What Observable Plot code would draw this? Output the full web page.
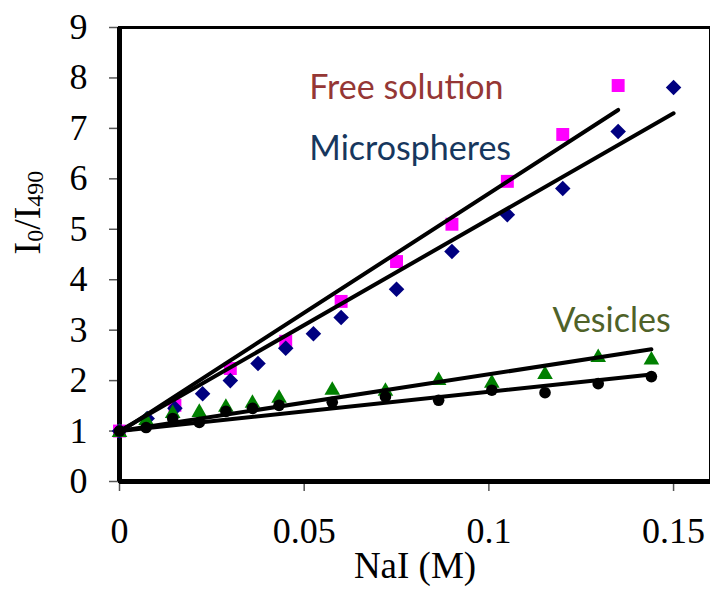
<!DOCTYPE html>
<html><head><meta charset="utf-8">
<script src="https://cdn.jsdelivr.net/npm/d3@7"></script>
<script src="https://cdn.jsdelivr.net/npm/@observablehq/plot@0.6"></script>
<style>body{margin:0;background:#fff} #chart svg{display:block}</style>
</head><body><div id="chart"></div>
<script>
// ---- data ----
const xFree  = [0, 0.015, 0.03, 0.045, 0.06, 0.075, 0.09, 0.105, 0.12, 0.135];
const yFree  = [1.0, 1.51, 2.24, 2.78, 3.57, 4.36, 5.10, 5.95, 6.88, 7.85];
const xMicro = [0, 0.0075, 0.015, 0.0225, 0.03, 0.0375, 0.045, 0.0525, 0.06, 0.075, 0.09, 0.105, 0.12, 0.135, 0.15];
const yMicro = [1.0, 1.25, 1.45, 1.74, 2.0, 2.34, 2.64, 2.93, 3.25, 3.81, 4.56, 5.29, 5.81, 6.94, 7.81];
const xVes   = [0, 0.0072, 0.0144, 0.0216, 0.0288, 0.036, 0.0432, 0.0576, 0.072, 0.0864, 0.1008, 0.1152, 0.1296, 0.144];
const yVesTri  = [0.97, 1.21, 1.35, 1.37, 1.47, 1.55, 1.65, 1.81, 1.79, 2.0, 1.95, 2.12, 2.46, 2.41];
const yVesCirc = [1.0, 1.07, 1.25, 1.17, 1.39, 1.45, 1.51, 1.57, 1.68, 1.61, 1.81, 1.76, 1.94, 2.08];
// linear fits (Stern-Volmer): intercept, slope, last x
const fitNames     = ["Free solution", "Microspheres", "Vesicles (triangles)", "Vesicles (circles)"];
const fitIntercept = [0.98, 1.0, 1.0, 1.0];
const fitSlope     = [47.3, 42.0, 11.25, 7.78];
const fitXmax      = [0.135, 0.15, 0.144, 0.144];
const xTicks = [0, 0.05, 0.1, 0.15];
const yTicks = [0, 1, 2, 3, 4, 5, 6, 7, 8, 9];

const zip = (xs, ys) => xs.map((x, i) => ({x, y: ys[i]}));
const free = zip(xFree, yFree);
const micro = zip(xMicro, yMicro);
const vesTri = zip(xVes, yVesTri);
const vesCirc = zip(xVes, yVesCirc);
const fits = fitNames.map((name, i) => ({
  name, x1: 0, y1: fitIntercept[i], x2: fitXmax[i], y2: fitIntercept[i] + fitSlope[i] * fitXmax[i]
}));

const serif = "Liberation Serif, Times New Roman, serif";
const sans = "Lato, Carlito, Calibri, sans-serif";

const chart = Plot.plot({
  width: 710, height: 592,
  marginLeft: 119, marginRight: 0, marginTop: 27, marginBottom: 111,
  x: {domain: [0, 0.16]},
  y: {domain: [0, 9]},
  style: {fontFamily: serif, fontSize: "36px", color: "black", background: "white"},
  marks: [
    Plot.axisX({ticks: xTicks, tickFormat: d => String(d), tickSize: 10, tickPadding: 26,
      stroke: "#555", strokeWidth: 1.5, fill: "black", label: null, fontSize: 36, fontFamily: serif}),
    Plot.axisY({ticks: yTicks, tickSize: 10, tickPadding: 22,
      stroke: "#555", strokeWidth: 1.5, fill: "black", label: null, fontSize: 36, fontFamily: serif}),
    Plot.frame({stroke: "black", strokeWidth: 3}),
    Plot.ruleX([0], {stroke: "black", strokeWidth: 5}),
    Plot.ruleY([0], {stroke: "black", strokeWidth: 5}),
    Plot.dot(free, {x: "x", y: "y", symbol: "square", r: 7.3, fill: "#FF00FF", stroke: null}),
    Plot.dot(micro, {x: "x", y: "y", symbol: "diamond2", r: 7, fill: "#000080", stroke: null}),
    Plot.dot(vesTri, {x: "x", y: "y", symbol: "triangle", r: 5.8, fill: "#008000", stroke: null}),
    Plot.dot(vesCirc, {x: "x", y: "y", symbol: "circle", r: 5.8, fill: "black", stroke: null}),
    Plot.link(fits, {x1: "x1", y1: "y1", x2: "x2", y2: "y2", stroke: "black", strokeWidth: 4, strokeLinecap: "round"}),
    Plot.text(["I0/I490"], {frameAnchor: "left", dx: -92, rotate: -90, fontSize: 38, fontFamily: serif, fill: "black"}),
    Plot.text(["NaI (M)"], {frameAnchor: "bottom", dy: 96, fontSize: 37, fontFamily: serif, fill: "black"}),
    Plot.text(["Free solution"], {x: 0.0514, y: 7.79, textAnchor: "start", fontSize: 34, fontFamily: sans, fill: "#953735"}),
    Plot.text(["Microspheres"], {x: 0.0514, y: 6.58, textAnchor: "start", fontSize: 34, fontFamily: sans, fill: "#17375E"}),
    Plot.text(["Vesicles"], {x: 0.1172, y: 3.17, textAnchor: "start", fontSize: 34, fontFamily: sans, fill: "#4F6228"})
  ]
});

// subscripts in the y-axis title
d3.select(chart).selectAll("text").filter(function() { return this.textContent === "I0/I490"; }).each(function() {
  const t = d3.select(this);
  t.text(null);
  t.append("tspan").text("I");
  t.append("tspan").attr("font-size", 24).attr("dy", 3).text("0");
  t.append("tspan").attr("dy", -3).text("/I");
  t.append("tspan").attr("font-size", 24).attr("dy", 3).text("490");
});

document.getElementById("chart").append(chart);
</script>
</body></html>
